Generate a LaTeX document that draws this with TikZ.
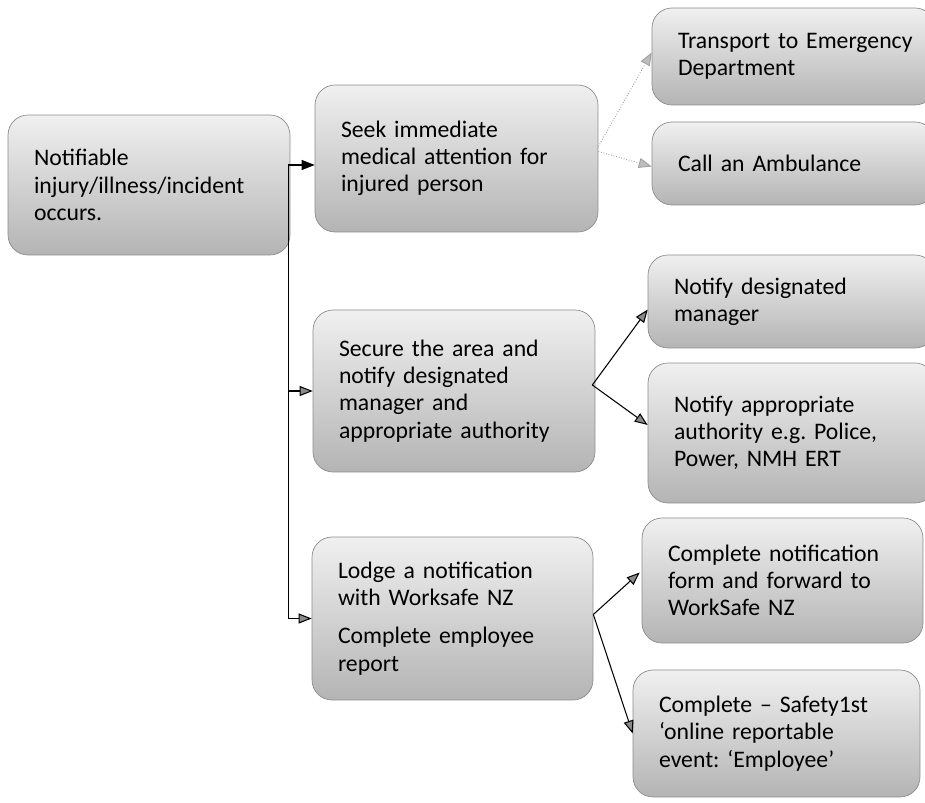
\documentclass[tikz,border=0pt]{standalone}
\usepackage{fontspec}
\setmainfont{Carlito}
\usetikzlibrary{arrows.meta, positioning, calc}
\usepackage{xcolor}
\definecolor{boxtop}{HTML}{F0F0F0}
\definecolor{boxbottom}{HTML}{B4B4B4}
\definecolor{boxborder}{HTML}{8C8C8C}
\definecolor{tipcol}{HTML}{8A8A8A}
\definecolor{faintcol}{HTML}{A0A0A0}
\frenchspacing
\newcommand{\boxfont}{\fontsize{13.5}{15.5}\selectfont\spaceskip=3.1pt plus 1pt\relax}

\begin{document}
\begin{tikzpicture}[
    x=0.02cm, y=-0.02cm,
    >=Stealth,
    box/.style={draw=boxborder, rounded corners=4mm, top color=boxtop, bottom color=boxbottom,
        inner xsep=5.2mm, inner ysep=1mm, align=left, font=\boxfont},
    arrow/.style={-{Triangle[length=2.6mm, width=2mm, fill=tipcol]}, line width=0.6pt, color=black},
    faint/.style={-{Triangle[length=2.6mm, width=2mm, fill=faintcol!70]}, densely dotted,
        line width=0.5pt, color=faintcol},
]
\useasboundingbox (0,0) rectangle (925,803);

% ============================================================
%  Left column: event and first actions
% ============================================================
\node[box, text width=46.0mm, minimum height=28mm] (occ) at (149,185)
    {Notifiable\\injury/illness/incident\\occurs.};

\node[box, text width=46.2mm, minimum height=29.4mm] (seek) at (456.5,158.5)
    {Seek immediate\\medical attention for\\injured person};

\node[box, text width=46.0mm, minimum height=32.4mm] (secure) at (454,391)
    {Secure the area and\\notify designated\\manager and\\appropriate authority};

\node[box, text width=45.8mm, minimum height=32.6mm] (lodge) at (452.5,618.5)
    {Lodge a notification\\with Worksafe NZ\\[2.2mm]Complete employee\\report};

% ============================================================
%  Right column: follow-up steps
% ============================================================
\node[box, text width=46.2mm, minimum height=19.4mm] (transport) at (793.5,56.5)
    {\mbox{Transport to Emergency}\\Department};
\node[box, text width=46.2mm, minimum height=16.6mm] (ambul) at (793.5,163.5)
    {Call an Ambulance};

\node[box, text width=47.0mm, minimum height=18.6mm] (notman) at (791.5,301.5)
    {Notify designated\\manager};
\node[box, text width=47.0mm, minimum height=28mm] (notauth) at (791.5,433)
    {Notify appropriate\\authority e.g. Police,\\Power, NMH ERT};

\node[box, text width=45.8mm, minimum height=25mm] (form) at (782.5,580.5)
    {Complete notification\\form and forward to\\WorkSafe NZ};
\node[box, text width=47.0mm, minimum height=25.4mm] (safety) at (776.5,733.5)
    {Complete – Safety1st\\‘online reportable\\event: ‘Employee’};

% ============================================================
%  Trunk from the event box
% ============================================================
\coordinate (trunk) at ($(occ.east)+(-2,-20)$);
\draw[line width=0.6pt] (trunk) -- (trunk |- lodge.west);
\draw[arrow, -{Triangle[length=2.6mm, width=2mm, fill=black]}] (trunk) -- (trunk -| seek.west);
\draw[arrow] (trunk |- secure.west) -- (secure.west);
\draw[arrow] (trunk |- lodge.west) -- (lodge.west);

% --- fan-out arrows ---
\draw[faint] ($(seek.east)+(0,-12)$) -- ($(transport.west)+(0,-4)$);
\draw[faint] ($(seek.east)+(0,-7)$) -- ($(ambul.west)+(0,3)$);

\draw[arrow] ($(secure.east)+(-3,-6)$) -- ($(notman.west)+(0,8)$);
\draw[arrow] ($(secure.east)+(-3,-6)$) -- ($(notauth.west)+(0,-8)$);

\draw[arrow] ($(lodge.east)+(0,-4)$) -- ($(form.west)+(-2,-8)$);
\draw[arrow] ($(lodge.east)+(0,-4)$) -- (safety.west);

\end{tikzpicture}
\end{document}
